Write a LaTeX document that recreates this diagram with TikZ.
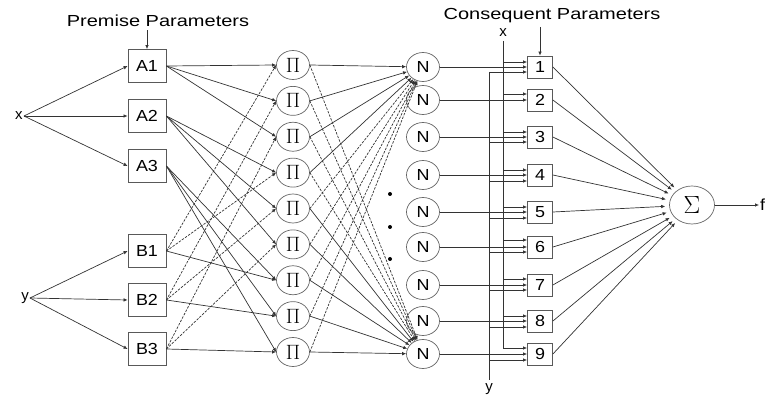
\documentclass[tikz,border=0pt]{standalone}
\usepackage{fontspec}
\setmainfont{Liberation Sans}
\usetikzlibrary{arrows.meta,shapes.geometric}
\newcommand\wdt[1]{\scalebox{1.12}[1]{#1}}
\newcommand\ttl[1]{\scalebox{1.25}[1]{#1}}
\begin{document}
\begin{tikzpicture}[x=1pt,y=-1pt,
  every node/.style={font=\fontsize{16}{18}\selectfont, text=black},
  ln/.style={draw=black!80, line width=0.7pt},
  arr/.style={ln, -{Latex[length=4pt,width=3.6pt]}},
  dsh/.style={arr, dash pattern=on 2.5pt off 1.3pt},
  mbox/.style={draw=black!65, line width=0.8pt, minimum width=38pt, minimum height=33pt, inner sep=0pt},
  cbox/.style={draw=black!65, line width=0.8pt, minimum width=25pt, minimum height=22pt, inner sep=0pt},
  circ/.style={ellipse, draw=black!60, line width=0.7pt, minimum width=33pt, minimum height=29pt, inner sep=0pt},
  lbl/.style={inner sep=1pt, font=\fontsize{15}{17}\selectfont}
]
\useasboundingbox (0,0) rectangle (766,398);

% input labels
\node[lbl] (xin) at (19,116) {x};
\node[lbl] (yin) at (25,298) {y};

% layer 1
\node[mbox] (A1) at (147,66) {\wdt{A1}};
\node[mbox] (A2) at (147,116) {\wdt{A2}};
\node[mbox] (A3) at (147,166) {\wdt{A3}};
\node[mbox] (B1) at (147,251) {\wdt{B1}};
\node[mbox] (B2) at (147,300) {\wdt{B2}};
\node[mbox] (B3) at (147,349) {\wdt{B3}};

\foreach \n in {A1,A2,A3} \draw[arr] (xin.east) -- (\n.west);
\foreach \n in {B1,B2,B3} \draw[arr] (yin.east) -- (\n.west);

\node (pp) at (158,21) {\ttl{Premise Parameters}};
\draw[arr] (pp.south -| A1.north) -- (A1.north);

% layer 2
\foreach \i in {1,...,9} {
  \pgfmathsetmacro\py{65+35.875*(\i-1)}
  \node[circ, font=\fontsize{21}{23}\selectfont] (P\i) at (293,\py) {$\Pi$};
}

\foreach \a/\p in {1/1,1/2,1/3,2/4,2/5,2/6,3/7,3/8,3/9}
  \draw[arr] (A\a.east) -- (P\p.west);
\foreach \b/\p in {1/1,1/4,2/2,2/5,3/3,3/6}
  \draw[dsh] (B\b.east) -- (P\p.west);
\foreach \b/\p in {1/7,2/8,3/9}
  \draw[arr] (B\b.east) -- (P\p.west);

% layer 3 and 4
\foreach \i/\yy in {1/67,2/100,3/137,4/175,5/212,6/247,7/285,8/321,9/354} {
  \node[circ] (N\i) at (423,\yy) {\wdt{N}};
  \node[cbox] (C\i) at (540,\yy) {\wdt{\i}};
  \draw[arr] (N\i) -- (C\i);
}

\foreach \i in {1,...,4} {
  \draw[arr] (P\i.east) -- (N1);
  \draw[dsh] (P\i.east) -- (N9);
}
\foreach \i in {5,...,9} {
  \draw[dsh] (P\i.east) -- (N1);
  \draw[arr] (P\i.east) -- (N9);
}

\fill[black] (390,194) circle (2pt);
\fill[black] (390,227) circle (2pt);
\fill[black] (390,259) circle (2pt);

% consequent inputs
\node[lbl] (xl) at (503,33) {x};
\node[lbl] (yl) at (489,389) {y};
\coordinate (xtop) at (503,41);
\coordinate (xend) at (503,348);
\draw[ln] (xtop) -- (xend);
\draw[arr] (xend) -- (xend -| C9.west);
\foreach \i/\yy in {1/62,2/94,3/132,4/170,5/207,6/240,7/279,8/316} {
  \coordinate (xb\i) at (503,\yy);
  \draw[arr] (xb\i) -- (xb\i -| C\i.west);
}
\coordinate (ytop) at (489,72);
\coordinate (ybot) at (489,380);
\draw[ln] (ytop) -- (ybot);
\draw[arr] (ytop) -- (ytop -| C1.west);
\foreach \i/\yy in {3/142,4/181,5/218,6/252,7/290,8/327,9/360} {
  \coordinate (yb\i) at (489,\yy);
  \draw[arr] (yb\i) -- (yb\i -| C\i.west);
}

\node (cp) at (552,16) {\ttl{Consequent Parameters}};
\draw[arr] (cp.south -| C1.north) -- (C1.north);

% output layer
\node[ellipse, draw=black!60, line width=0.7pt, minimum width=45pt, minimum height=38pt, inner sep=0pt, font=\fontsize{24}{26}\selectfont] (S) at (692,205) {$\Sigma$};
\foreach \i in {1,...,9}
  \draw[arr, shorten >=4pt] (C\i.east) -- (S);
\coordinate (out) at (759,205);
\draw[arr] (S.east) -- (out);
\node[anchor=west, inner sep=0pt] (f) at (760,205) {\wdt{f}};
\end{tikzpicture}
\end{document}
